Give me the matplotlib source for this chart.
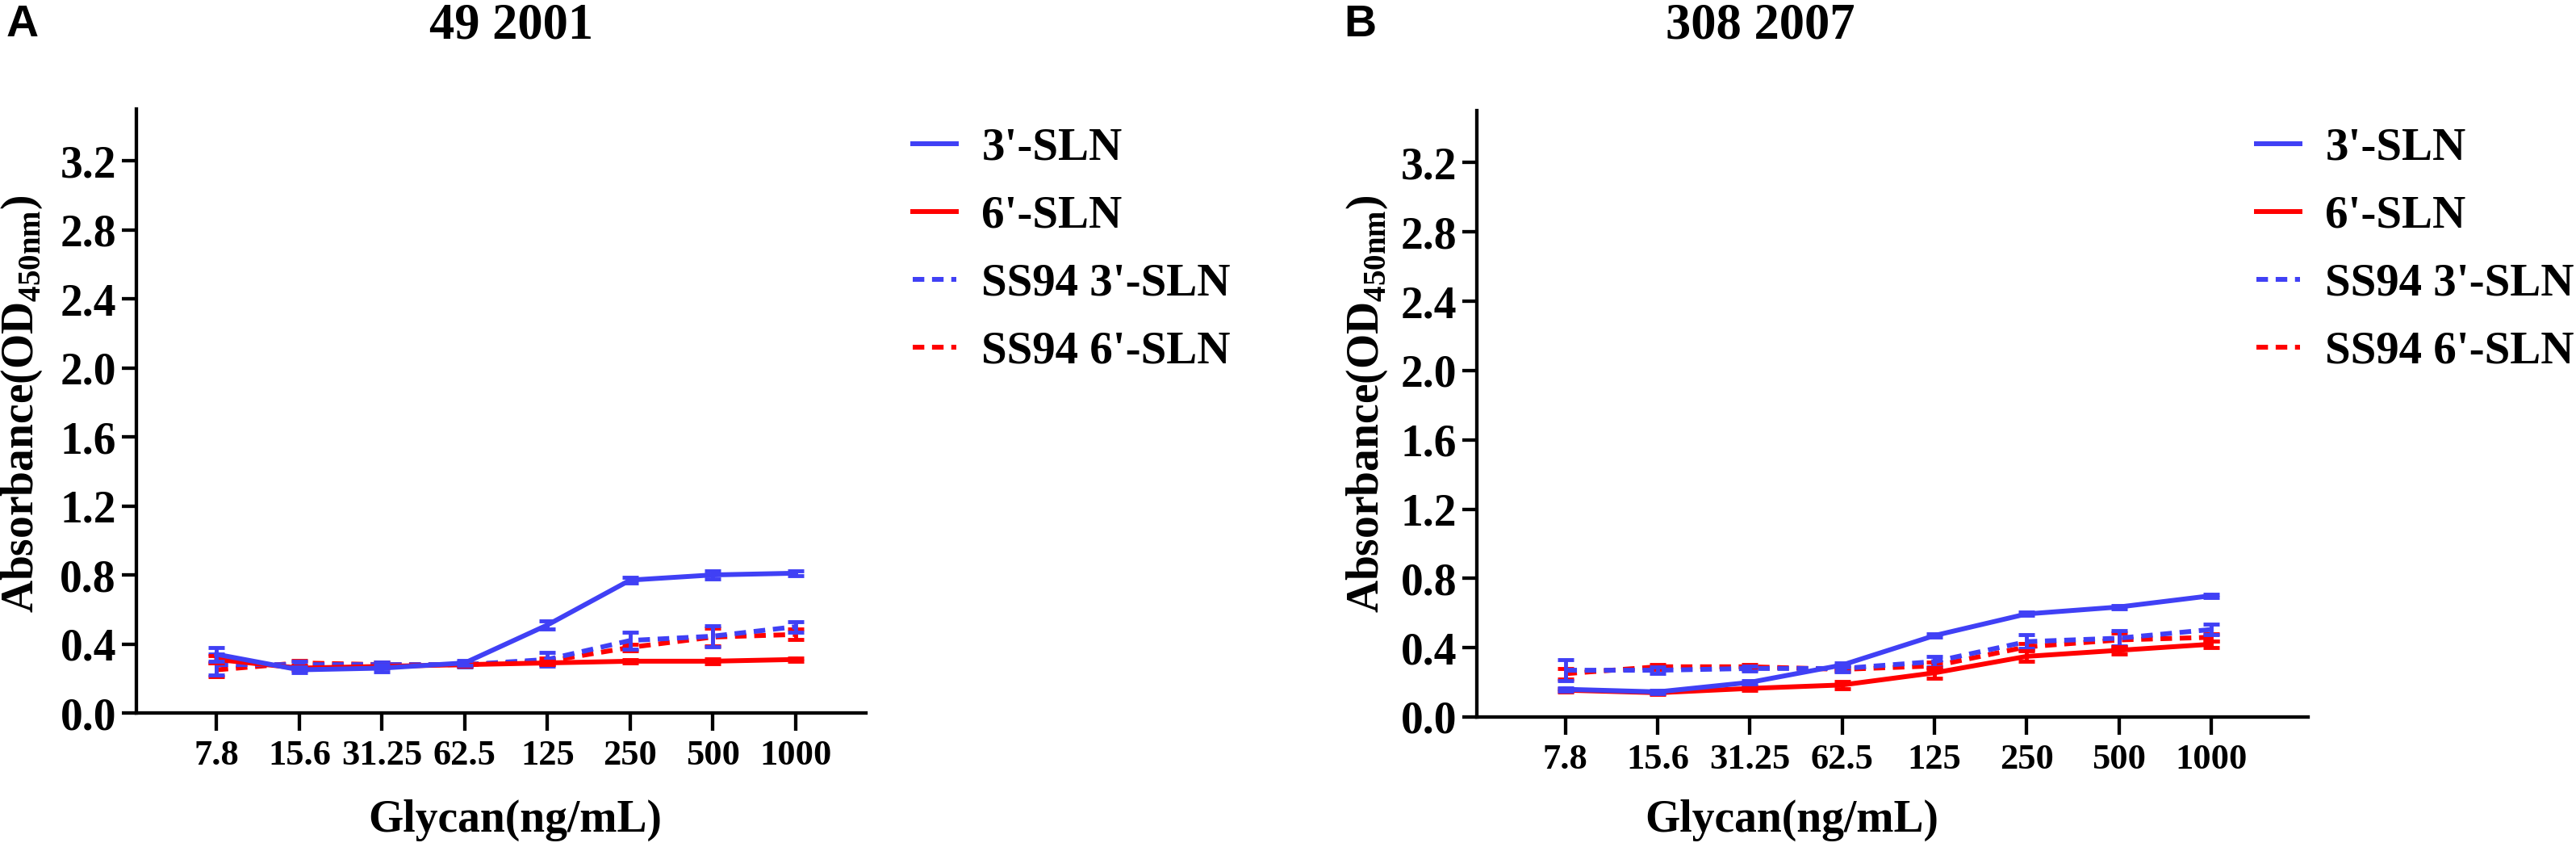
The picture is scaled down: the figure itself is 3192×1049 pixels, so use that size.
import matplotlib
matplotlib.use("Agg")
import matplotlib.pyplot as plt
import numpy as np

# glycan concentrations (ng/mL), shown as categories
cats = ['7.8', '15.6', '31.25', '62.5', '125', '250', '500', '1000']
yticks = [0.0, 0.4, 0.8, 1.2, 1.6, 2.0, 2.4, 2.8, 3.2]
labels = ["3'-SLN", "6'-SLN", "SS94 3'-SLN", "SS94 6'-SLN"]

# panel A: 49 2001
sln3_a = [0.34, 0.25, 0.26, 0.29, 0.51, 0.77, 0.80, 0.81]
sln3_a_err = [0.04, 0.015, 0.02, 0.015, 0.025, 0.015, 0.025, 0.015]
sln6_a = [0.31, 0.26, 0.27, 0.28, 0.29, 0.30, 0.30, 0.31]
sln6_a_err = [0.02, 0.01, 0.01, 0.01, 0.01, 0.01, 0.015, 0.01]
ss3_a = [0.28, 0.28, 0.28, 0.28, 0.31, 0.42, 0.445, 0.50]
ss3_a_err = [0.06, 0.02, 0.015, 0.015, 0.04, 0.05, 0.06, 0.03]
ss6_a = [0.25, 0.29, 0.28, 0.28, 0.30, 0.38, 0.44, 0.455]
ss6_a_err = [0.04, 0.015, 0.015, 0.01, 0.02, 0.02, 0.05, 0.03]

# panel B: 308 2007
sln3_b = [0.16, 0.145, 0.20, 0.30, 0.47, 0.595, 0.635, 0.70]
sln3_b_err = [0.01, 0.01, 0.01, 0.01, 0.01, 0.01, 0.01, 0.01]
sln6_b = [0.155, 0.14, 0.165, 0.185, 0.255, 0.35, 0.385, 0.42]
sln6_b_err = [0.01, 0.01, 0.01, 0.02, 0.03, 0.03, 0.02, 0.02]
ss3_b = [0.27, 0.27, 0.28, 0.28, 0.32, 0.435, 0.455, 0.505]
ss3_b_err = [0.06, 0.02, 0.015, 0.02, 0.03, 0.04, 0.045, 0.03]
ss6_b = [0.25, 0.29, 0.29, 0.275, 0.295, 0.405, 0.445, 0.46]
ss6_b_err = [0.03, 0.015, 0.015, 0.01, 0.02, 0.02, 0.04, 0.02]

blue = '#4040F5'
red = '#FF0000'
serif = 'Liberation Serif'
plt.rcParams['font.family'] = serif
plt.rcParams['font.weight'] = 'bold'
plt.rcParams['mathtext.fontset'] = 'custom'
plt.rcParams['mathtext.bf'] = 'Liberation Serif:bold'
plt.rcParams['mathtext.rm'] = 'Liberation Serif:bold'

W, H = 3192, 1049
fig = plt.figure(figsize=(W / 100, H / 100), dpi=100)

def fx(px):
    return px / W

def fy(py):
    return 1 - py / H

def panel(rect, series, xlim, title, title_x, xlabel_x, ylabel_x, letter, letter_x, leg_x):
    ax = fig.add_axes(rect)
    x = np.arange(len(cats))
    styles = [(blue, '-'), (red, '-'), (blue, (0, (2.4, 1.6))), (red, (0, (2.4, 1.6)))]
    order = [3, 2, 1, 0]
    handles = [None] * 4
    for i in order:
        vals, errs = series[i]
        col, ls = styles[i]
        ax.errorbar(x, vals, yerr=errs, fmt='none', ecolor=col, elinewidth=3.5,
                    capsize=7.5, capthick=3.5, zorder=2 + (3 - i))
        ln, = ax.plot(x, vals, color=col, linestyle=ls, lw=4.3, label=labels[i],
                      zorder=2 + (3 - i))
        handles[i] = ln
    ax.set_xlim(*xlim)
    ax.set_ylim(0, 3.5)
    ax.set_xticks(x)
    ax.set_xticklabels(cats, fontsize=32, fontweight='bold')
    ax.set_yticks(yticks)
    ax.set_yticklabels(['%.1f' % v for v in yticks], fontsize=40, fontweight='bold')
    for s in ['top', 'right']:
        ax.spines[s].set_visible(False)
    for s in ['left', 'bottom']:
        ax.spines[s].set_linewidth(3.1)
    ax.tick_params(axis='y', length=13, width=3.1, pad=5)
    ax.tick_params(axis='x', length=16, width=3.1, pad=8)
    ax.legend(handles=handles, loc='upper left', bbox_to_anchor=(fx(leg_x), fy(158)),
              bbox_transform=fig.transFigure, frameon=False,
              handlelength=0.95, handletextpad=0.55, labelspacing=0.56,
              borderpad=0, borderaxespad=0, prop={'family': serif, 'weight': 'bold', 'size': 41})
    fig.text(fx(title_x), fy(33), title, ha='center', va='center', fontsize=45,
             fontweight='bold')
    fig.text(fx(xlabel_x), fy(1016), 'Glycan(ng/mL)', ha='center', va='center',
             fontsize=40, fontweight='bold')
    fig.text(fx(ylabel_x), fy(500), 'Absorbance(OD$_{\\mathbf{450nm}}$)', ha='center',
             va='center', rotation=90, fontsize=40, fontweight='bold')
    fig.text(fx(letter_x), fy(5), letter, ha='left', va='top', fontsize=40,
             fontweight='bold', family='Liberation Sans')
    return ax

panel([fx(169), fy(883), fx(1073) - fx(169), fy(135) - fy(883)],
      [(sln3_a, sln3_a_err), (sln6_a, sln6_a_err), (ss3_a, ss3_a_err), (ss6_a, ss6_a_err)],
      (-0.97, 7.85), '49 2001', 634, 638, 27, 'A', 8, 1131)

panel([fx(1830), fy(888), fx(2860) - fx(1830), fy(137) - fy(888)],
      [(sln3_b, sln3_b_err), (sln6_b, sln6_b_err), (ss3_b, ss3_b_err), (ss6_b, ss6_b_err)],
      (-0.96, 8.05), '308 2007', 2181, 2220, 1694, 'B', 1665, 2796)

fig.savefig('out.png', dpi=100)
